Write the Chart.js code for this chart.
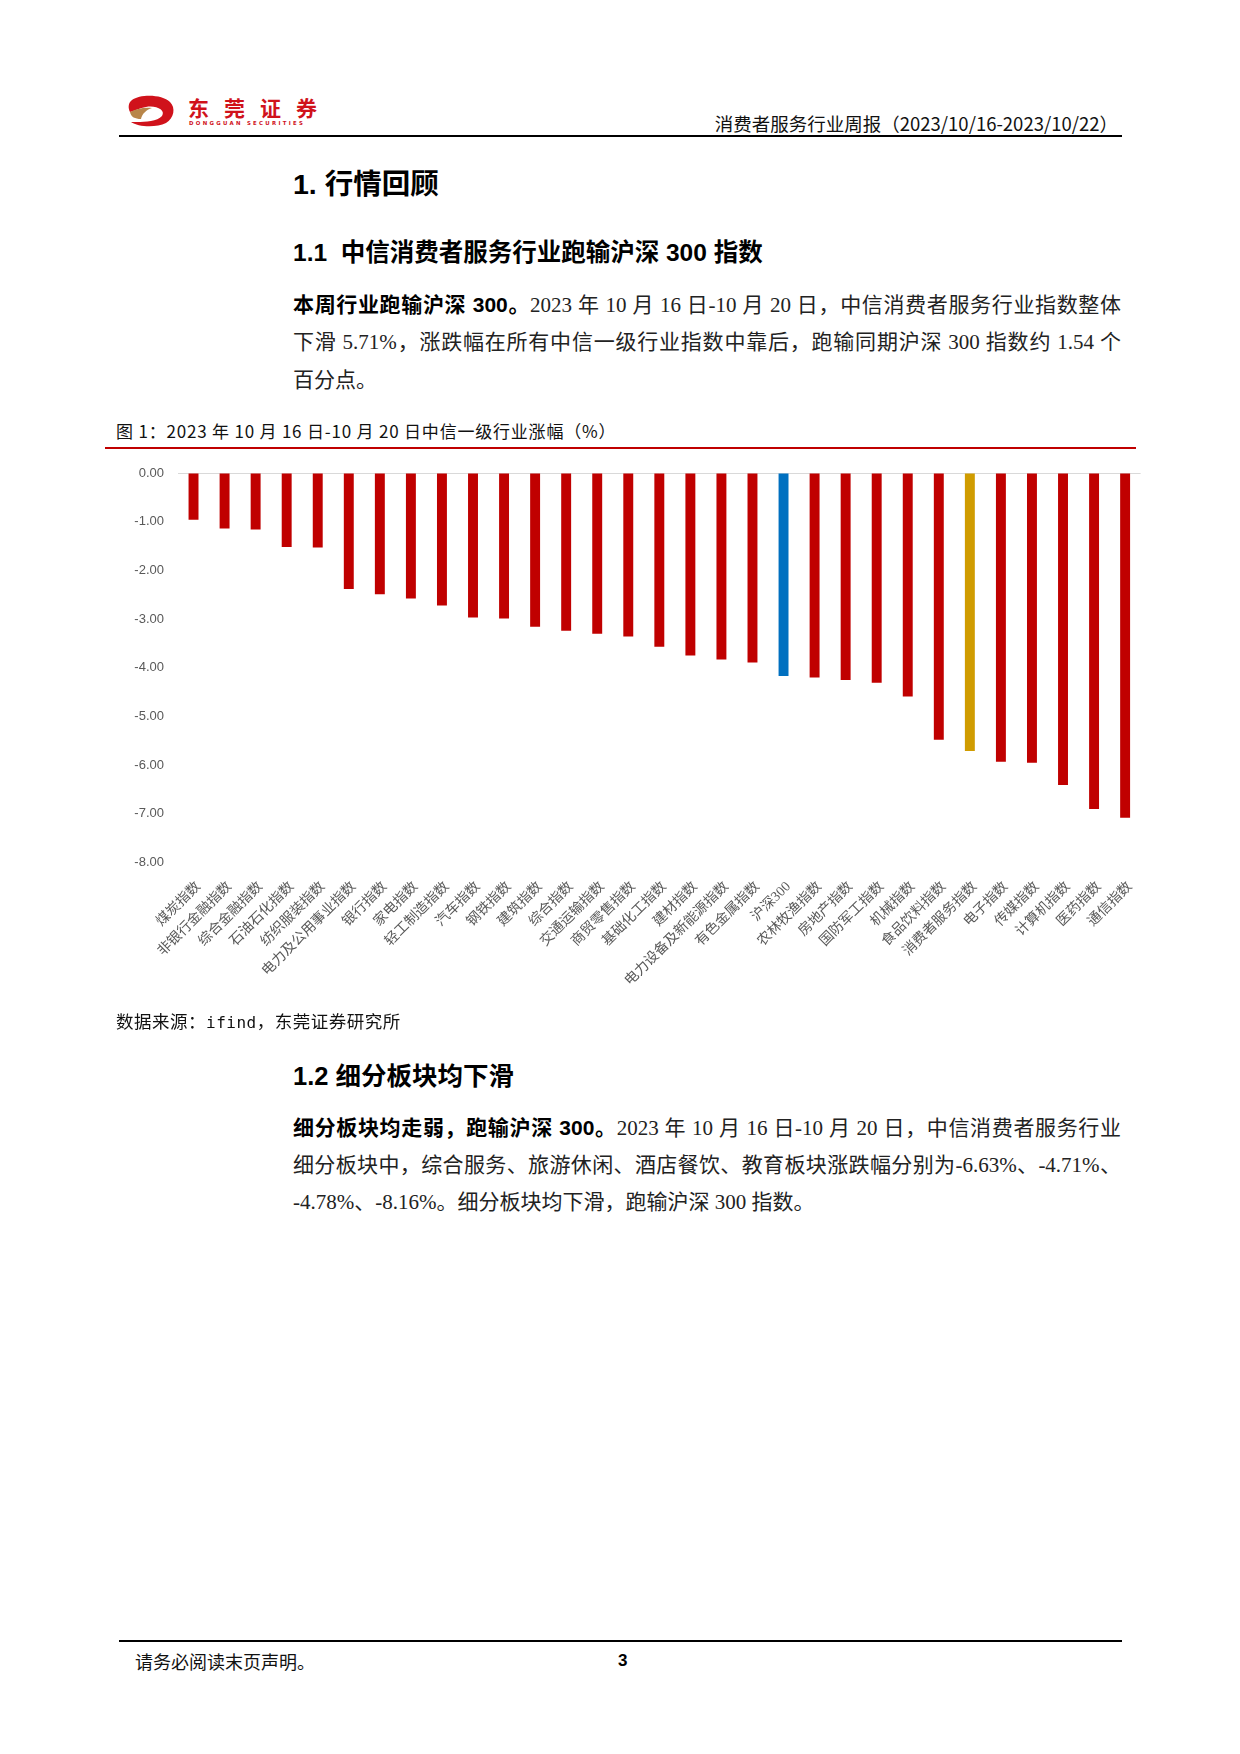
<!DOCTYPE html>
<html lang="zh-CN">
<head>
<meta charset="utf-8">
<title>中信一级行业涨幅</title>
<script src="https://cdn.jsdelivr.net/npm/chart.js@4.4.0/dist/chart.umd.min.js"></script>
<style>
  html, body { margin: 0; padding: 0; background: #ffffff; }
  body { width: 1240px; height: 1754px; position: relative; overflow: hidden;
         font-family: "Noto Sans CJK SC", "DejaVu Sans", sans-serif; color: #000; }
  .abs { position: absolute; white-space: nowrap; }
  .hdr-text { right: 122px; top: 111px; font-size: 18.5px; line-height: 24px; color: #111; }
  .hline { position: absolute; background: #000; }
  .h1 { left: 293px; top: 166px; font-size: 28.5px; line-height: 36px; font-weight: 700;
        font-family: "Liberation Sans Narrow", "Liberation Sans", "Noto Sans CJK SC", sans-serif; }
  .h2 { left: 293px; top: 237px; font-size: 24.5px; line-height: 32px; font-weight: 700;
        font-family: "Liberation Sans", "Noto Sans CJK SC", sans-serif; }
  .h3 { left: 293px; top: 1059px; font-size: 25.5px; line-height: 34px; font-weight: 700;
        font-family: "Liberation Sans Narrow", "Liberation Sans", "Noto Sans CJK SC", sans-serif; }
  .para { position: absolute; left: 293px; width: 828px; font-size: 21px; line-height: 28px;
          font-family: "Liberation Serif", "Noto Sans CJK SC", serif; color: #222;
          text-align: justify; text-align-last: justify; white-space: nowrap; }
  .para.last { text-align-last: left; }
  .para b { font-family: "Liberation Sans", "Noto Sans CJK SC", sans-serif; font-weight: 700; color: #000; }
  .caption { left: 116px; top: 419px; font-size: 17px; line-height: 24px; color: #111; letter-spacing: 0.8px; }
  .source { left: 116px; top: 1009px; font-size: 17.5px; line-height: 24px; color: #111; letter-spacing: 0.5px; }
  .mono { font-family: "DejaVu Sans Mono", monospace; font-size: 16px; }
  .footer { left: 135px; top: 1649px; font-size: 18px; line-height: 24px; color: #111; }
  .pageno { left: 618px; top: 1649px; font-size: 17px; line-height: 24px; font-weight: 700;
            font-family: "Liberation Sans", sans-serif; }
  #chartBox { position: absolute; left: 100px; top: 450px; width: 1045px; height: 560px; }
</style>
</head>
<body>

<!-- logo -->
<svg class="abs" style="left:126px;top:92px" width="205" height="36" viewBox="0 0 205 36">
  <path d="M6,8 C14,2 36,2 44,10 C50,16 48,26 40,31 C30,36 12,35 5,30 C12,30 30,31 36,24 C40,18 30,13 20,15 C14,16 8,19 4,20 C2,16 2,11 6,8 Z" fill="#d0121b"/>
  <path d="M4,20 C10,17 18,15 26,16 C20,18 16,22 15,27 C9,27 5,25 4,20 Z" fill="#b8864a"/>
  <text x="62" y="24" font-family="Noto Sans CJK SC" font-weight="700" font-size="21" fill="#d0121b" letter-spacing="15">东莞证券</text>
  <text x="63" y="33" font-family="DejaVu Sans" font-weight="700" font-size="5.4" fill="#d0121b" letter-spacing="2.3">DONGGUAN SECURITIES</text>
</svg>

<div class="abs hdr-text">消费者服务行业周报（2023/10/16-2023/10/22）</div>
<div class="hline" style="left:119px;top:135px;width:1003px;height:2px;"></div>

<div class="abs h1">1. 行情回顾</div>
<div class="abs h2">1.1&nbsp;&nbsp;中信消费者服务行业跑输沪深 300 指数</div>

<div class="para" style="top:291px;"><b>本周行业跑输沪深 300。</b>2023 年 10 月 16 日-10 月 20 日，中信消费者服务行业指数整体</div>
<div class="para" style="top:328px;">下滑 5.71%，涨跌幅在所有中信一级行业指数中靠后，跑输同期沪深 300 指数约 1.54 个</div>
<div class="para last" style="top:366px;">百分点。</div>

<div class="abs caption">图 1：2023 年 10 月 16 日-10 月 20 日中信一级行业涨幅（%）</div>
<div class="hline" style="left:105px;top:447px;width:1031px;height:2px;background:#c00000;"></div>

<div id="chartBox"><canvas id="chart" width="1045" height="560"></canvas></div>

<div class="abs source">数据来源：<span class="mono">ifind</span>，东莞证券研究所</div>

<div class="abs h3">1.2 细分板块均下滑</div>

<div class="para" style="top:1114px;"><b>细分板块均走弱，跑输沪深 300。</b>2023 年 10 月 16 日-10 月 20 日，中信消费者服务行业</div>
<div class="para" style="top:1151px;">细分板块中，综合服务、旅游休闲、酒店餐饮、教育板块涨跌幅分别为-6.63%、-4.71%、</div>
<div class="para last" style="top:1188px;">-4.78%、-8.16%。细分板块均下滑，跑输沪深 300 指数。</div>

<div class="hline" style="left:119px;top:1640px;width:1003px;height:2px;"></div>
<div class="abs footer">请务必阅读末页声明。</div>
<div class="abs pageno">3</div>

<script>
// ---- data ----
const categories = [
  "煤炭指数", "非银行金融指数", "综合金融指数", "石油石化指数", "纺织服装指数",
  "电力及公用事业指数", "银行指数", "家电指数", "轻工制造指数", "汽车指数",
  "钢铁指数", "建筑指数", "综合指数", "交通运输指数", "商贸零售指数",
  "基础化工指数", "建材指数", "电力设备及新能源指数", "有色金属指数", "沪深300",
  "农林牧渔指数", "房地产指数", "国防军工指数", "机械指数", "食品饮料指数",
  "消费者服务指数", "电子指数", "传媒指数", "计算机指数", "医药指数", "通信指数"
];
const changes = [
  -0.96, -1.14, -1.16, -1.52, -1.53,
  -2.38, -2.49, -2.58, -2.72, -2.97,
  -2.99, -3.16, -3.24, -3.30, -3.36,
  -3.57, -3.75, -3.83, -3.89, -4.17,
  -4.20, -4.25, -4.31, -4.59, -5.48,
  -5.71, -5.93, -5.95, -6.41, -6.90, -7.08
];
const benchmarkName = "沪深300";
const focusName = "消费者服务指数";
const yTicks = [0, -1, -2, -3, -4, -5, -6, -7, -8];

// ---- styles ----
const RED = "#c00000", BLUE = "#0070c0", GOLD = "#d09c00";
const barColors = categories.map(c => c === benchmarkName ? BLUE : (c === focusName ? GOLD : RED));

new Chart(document.getElementById("chart"), {
  type: "bar",
  data: {
    labels: categories,
    datasets: [{
      data: changes,
      backgroundColor: barColors,
      borderWidth: 0,
      barPercentage: 0.32,
      categoryPercentage: 1.0
    }]
  },
  options: {
    responsive: false,
    animation: false,
    devicePixelRatio: 1,
    layout: { padding: { top: 23, left: 0, right: 0, bottom: 0 } },
    plugins: { legend: { display: false }, tooltip: { enabled: false }, title: { display: false } },
    scales: {
      x: {
        grid: { display: false },
        border: { display: false },
        ticks: {
          autoSkip: false, maxRotation: 45, minRotation: 45,
          color: "#595959", padding: 8, labelOffset: 5,
          font: { family: "'Liberation Serif', 'Noto Sans CJK SC', serif", size: 14 }
        },
        afterFit: (s) => { s.height = 147.5; }
      },
      y: {
        min: Math.min(...yTicks), max: Math.max(...yTicks),
        afterBuildTicks: (s) => { s.ticks = yTicks.map(v => ({ value: v })); },
        grid: {
          drawTicks: false,
          color: (ctx) => (ctx.tick && ctx.tick.value === 0) ? "#d9d9d9" : "rgba(0,0,0,0)",
          lineWidth: 1
        },
        border: { display: false },
        ticks: {
          color: "#595959", padding: 14,
          font: { family: "'Liberation Sans', 'DejaVu Sans', sans-serif", size: 13 },
          callback: (v) => Number(v).toFixed(2)
        },
        afterFit: (s) => { s.width = 78; }
      }
    }
  }
});
</script>
</body>
</html>
